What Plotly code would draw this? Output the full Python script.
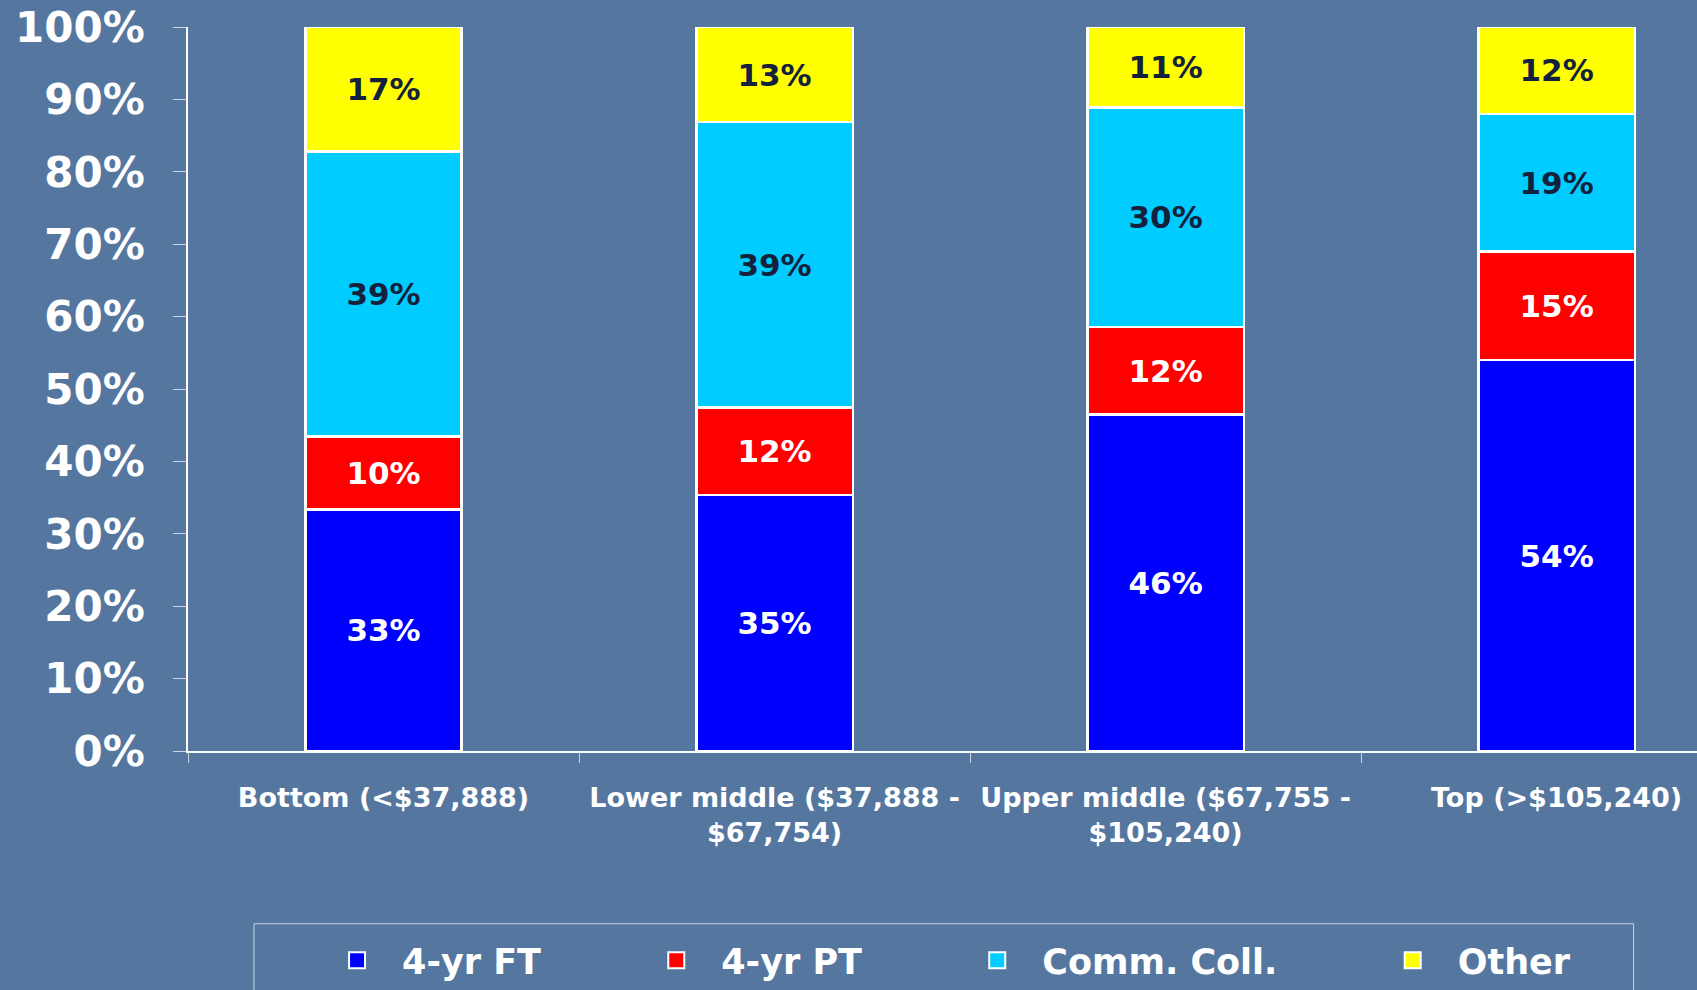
import plotly.graph_objects as go

# income groups (x categories) and share of enrolment by sector, in %
categories = [
    "Bottom (<$37,888)",
    "Lower middle ($37,888 -<br>$67,754)",
    "Upper middle ($67,755 -<br>$105,240)",
    "Top (>$105,240)",
]
four_yr_ft = [33, 35, 46, 54]
four_yr_pt = [10, 12, 12, 15]
comm_coll = [39, 39, 30, 19]
other = [17, 13, 11, 12]

series = [
    ("4-yr FT", four_yr_ft, "#0000FF", "white"),
    ("4-yr PT", four_yr_pt, "#FF0000", "white"),
    ("Comm. Coll.", comm_coll, "#00CCFF", "#14213d"),
    ("Other", other, "#FFFF00", "#14213d"),
]

BG = "#55779F"
FONT = "DejaVu Sans"
PAD = "\u00a0" * 7  # spacing between legend entries

fig = go.Figure()

for name, vals, color, txt_color in series:
    fig.add_trace(go.Bar(
        x=categories,
        y=vals,
        name=name,
        marker=dict(color=color, line=dict(color="white", width=2.5)),
        width=0.4,
        texttemplate="%{y:.0f}%",
        textposition="inside",
        insidetextanchor="middle",
        constraintext="none",
        textfont=dict(family=FONT, size=31, color=txt_color, weight="bold"),
        showlegend=False,
    ))

# legend entries with bigger square swatches
for i, (name, vals, color, txt_color) in enumerate(series):
    fig.add_trace(go.Scatter(
        x=[None], y=[None],
        mode="markers",
        name=name + (PAD if i < len(series) - 1 else ""),
        marker=dict(symbol="square", size=20, color=color,
                    line=dict(color="white", width=2)),
    ))

# frame around the legend
fig.add_shape(
    type="rect", xref="paper", yref="paper",
    x0=0.0437, x1=0.958, y0=-0.2386, y1=-0.40,
    line=dict(color="#c9d3e0", width=1),
    fillcolor="rgba(0,0,0,0)",
)

fig.update_layout(
    barmode="stack",
    barnorm="percent",
    width=1697,
    height=990,
    margin=dict(l=188, r=0, t=27, b=238),
    paper_bgcolor=BG,
    plot_bgcolor=BG,
    font=dict(family=FONT, color="white"),
    legend=dict(
        orientation="h",
        x=0.0822, xanchor="left",
        y=-0.248, yanchor="top",
        borderwidth=0,
        bgcolor="rgba(0,0,0,0)",
        font=dict(family=FONT, size=35, color="white", weight="bold"),
        itemwidth=80,
        itemsizing="trace",
        traceorder="normal",
    ),
)

fig.update_xaxes(
    range=[-0.5, 3.359],
    showline=True, linecolor="white", linewidth=1.5,
    ticks="outside", tickson="boundaries", ticklen=10,
    tickcolor="rgba(255,255,255,0.7)",
    ticklabelstandoff=22,
    tickfont=dict(family=FONT, size=27, color="white", weight="bold"),
    showgrid=False,
)
fig.update_yaxes(
    range=[0, 100], dtick=10, ticksuffix="%",
    showline=True, linecolor="white", linewidth=1.5,
    ticks="outside", ticklen=13, tickcolor="rgba(255,255,255,0.7)",
    ticklabelstandoff=20,
    tickfont=dict(family=FONT, size=42, color="white", weight="bold"),
    showgrid=False, zeroline=False,
)

fig.write_html(
    "out.html",
    config={"displayModeBar": False},
    post_script="document.body.style.margin='0';",
)
